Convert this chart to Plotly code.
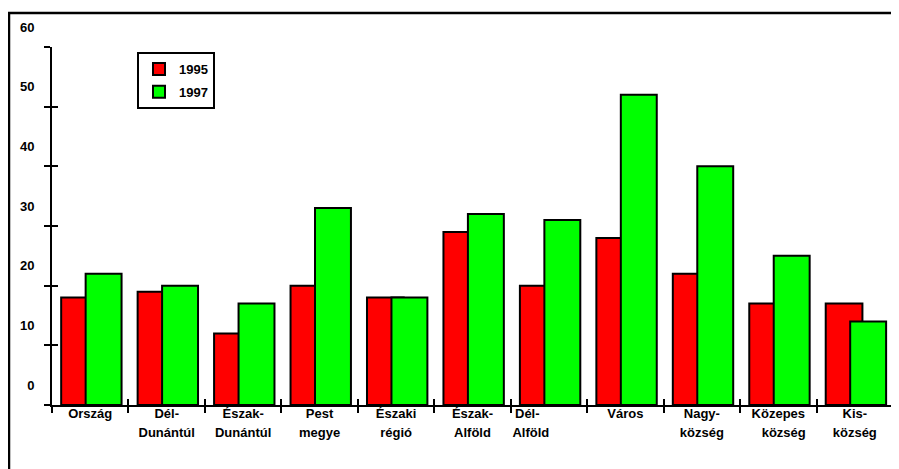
import plotly.graph_objects as go

NB = "\u00a0"
categories = ["Ország", "Dél-Dunántúl", "Észak-Dunántúl", "Pest megye", "Északi régió",
              "Észak-Alföld", "Dél-Alföld", "Város", "Nagyközség", "Közepes község", "Kisközség"]
label_line1 = ["Ország", "Dél-", "Észak-", "Pest", "Északi", "Észak-",
               "Dél-" + NB * 12, "Város", "Nagy-", "Közepes", "Kis-"]
label_line2 = ["", "Dunántúl", "Dunántúl", "megye", "régió", "Alföld",
               "Alföld" + NB * 10, "", "község", NB * 3 + "község", "község"]
values_1995 = [18, 19, 12, 20, 18, 29, 20, 28, 22, 17, 17]
values_1997 = [22, 20, 17, 33, 18, 32, 31, 52, 40, 25, 14]
y_ticks = [0, 10, 20, 30, 40, 50, 60]
series_names = ["1995", "1997"]

FONT = "Arial, 'Liberation Sans', sans-serif"
OFF = 8                      # page body margin
W, H = 899 - OFF, 469 - OFF
ML, MR, MT, MB = 44, 6, 39, 64

fig = go.Figure()
fig.add_trace(go.Bar(x=categories, y=values_1995, name=series_names[0], legendgroup="a",
                     offset=-0.38, width=0.48, xaxis="x", yaxis="y",
                     marker=dict(color="#ff0000", line=dict(color="black", width=2))))
fig.add_trace(go.Bar(x=categories, y=values_1997, name=series_names[1], legendgroup="b",
                     offset=-0.06, width=0.47, xaxis="x2", yaxis="y2",
                     marker=dict(color="#00ff00", line=dict(color="black", width=2))))

tickfont = dict(family=FONT, size=13, color="black", weight="bold")

pw = W - ML - MR
ph = H - MT - MB

fig.update_layout(
    width=W, height=H,
    margin=dict(l=ML, r=MR, t=MT, b=MB, pad=0),
    paper_bgcolor="white", plot_bgcolor="white",
    barmode="overlay",
    showlegend=True,
    legend=dict(x=(137 - OFF - ML) / pw, y=(H - MB - (52 - OFF)) / ph,
                xanchor="left", yanchor="top",
                bgcolor="white", bordercolor="black", borderwidth=2,
                font=dict(family=FONT, size=13, color="black", weight="bold"),
                tracegroupgap=3, itemwidth=30),
    xaxis=dict(type="category", categoryorder="array", categoryarray=categories,
               tickmode="array", tickvals=categories, ticktext=label_line1,
               tickson="boundaries", ticks="outside", ticklen=6, tickwidth=2, tickcolor="black",
               showline=True, linecolor="black", linewidth=2, showgrid=False,
               range=[-0.5, 10.5], tickfont=tickfont, ticklabelstandoff=-5,
               tickangle=0, automargin=False),
    xaxis2=dict(type="category", categoryorder="array", categoryarray=categories,
                overlaying="x", matches="x", anchor="y2", side="bottom",
                tickmode="array", tickvals=categories, ticktext=label_line2,
                tickson="boundaries", ticks="inside", ticklen=6, tickwidth=2, tickcolor="black",
                showline=True, linecolor="black", linewidth=2, showgrid=False,
                tickfont=tickfont, ticklabelstandoff=14, tickangle=0, automargin=False),
    yaxis=dict(range=[0, 60], tickmode="array", tickvals=y_ticks,
               ticks="outside", ticklen=6, tickwidth=2, tickcolor="black",
               showline=True, linecolor="black", linewidth=2, showgrid=False, zeroline=False,
               tickfont=tickfont, ticklabelshift=-20, ticklabelstandoff=7, automargin=False),
    yaxis2=dict(range=[0, 60], overlaying="y", matches="y", anchor="x2", side="left",
                tickmode="array", tickvals=y_ticks, ticks="inside", ticklen=6, tickwidth=2,
                tickcolor="black", showticklabels=False, showline=True, linecolor="black",
                linewidth=2, showgrid=False, zeroline=False, automargin=False),
    shapes=[dict(type="rect", xref="paper", yref="paper",
                 x0=(8 - OFF - ML + 1) / pw, x1=1.2, y0=-0.5,
                 y1=(H - MB - (12 - OFF) - 1) / ph,
                 line=dict(color="black", width=2.5), layer="below")],
)

fig.write_html("out.html")
